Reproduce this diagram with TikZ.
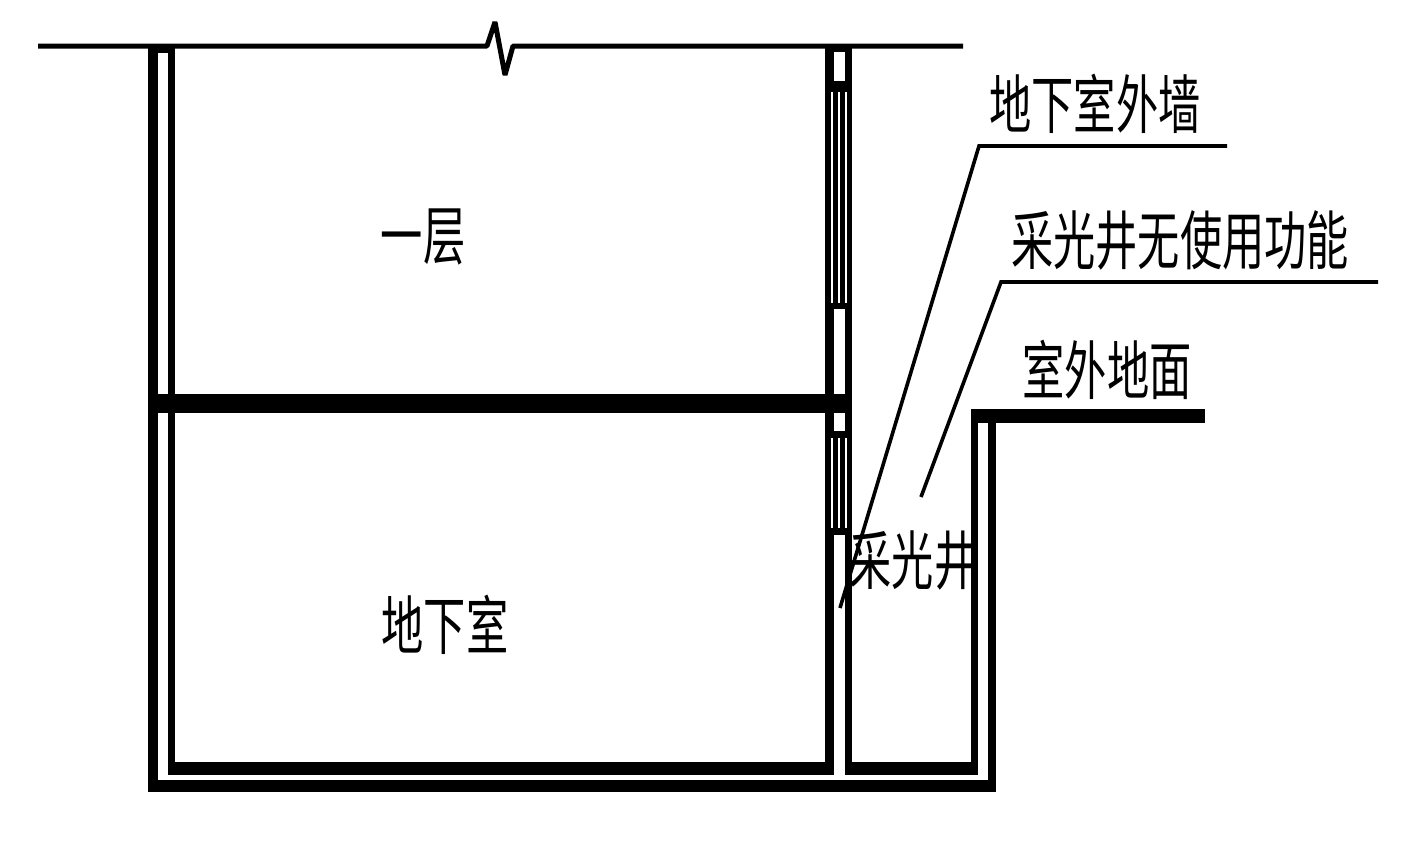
\documentclass[tikz,border=0pt]{standalone}
\usepackage{fontspec}
\newfontfamily\cjk{Noto Sans CJK SC}
\usetikzlibrary{positioning}
\tikzset{
  wall/.style={black,line width=#1*0.5pt},
  leader/.style={black,line width=1.8pt},
  label/.style={font=\cjk\fontsize{32}{34}\selectfont,xscale=.66,inner sep=0pt}
}
\begin{document}
\begin{tikzpicture}[x=0.5pt,y=-0.5pt]
\useasboundingbox (0,0) rectangle (1405,843);
% ground line with break mark
\draw[wall=5,line join=bevel] (38,46) -- (487,46) -- (495,22) -- (505,75) -- (513,46) -- (963,46);
% outer walls
\draw[wall=10] (153,46) -- (153,792);
\draw[wall=7] (171.5,46) -- (171.5,775);
\draw[wall=7] (148,49.5) -- (175,49.5);
\draw[wall=12] (148,786) -- (996,786);
\draw[wall=8] (992,412) -- (992,792);
\draw[wall=7] (974.5,412) -- (974.5,775);
\draw[wall=14] (971,416) -- (1205,416);
% basement floor
\draw[wall=13] (168,768.5) -- (834,768.5);
\draw[wall=13] (845,768.5) -- (978,768.5);
% slab
\draw[wall=19] (148,403.5) -- (852,403.5);
% window wall
\draw[wall=9] (829.5,46) -- (829.5,775);
\draw[wall=7] (848.5,46) -- (848.5,775);
\draw[wall=6] (825,49) -- (852,49);
\fill[black] (825,81) rectangle (852,309);
\fill[black] (825,431) rectangle (852,535);
\foreach \x in {831.5,838.5,845.5}{
  \draw[white,line width=1pt] (\x,92) -- (\x,303);
  \draw[white,line width=1pt] (\x,438) -- (\x,528);
}
% labels
\node[label] (first) at (423,237) {一层};
\node[label] (base) at (445,625) {地下室};
\node[label] (wallname) at (1095,104) {地下室外墙};
\node[label] (nouse) at (1180,240) {采光井无使用功能};
\node[label] (ground) at (1107,370) {室外地面};
\node[label] (well) at (913,560) {采光井};
% leaders
\coordinate (wallend) at (1227,146);
\coordinate (wallbend) at (979,146);
\coordinate (walltip) at (840,608);
\coordinate (nouseend) at (1378,282);
\coordinate (nousebend) at (1001,282);
\coordinate (nousetip) at (921,497);
\draw[leader] (wallend) -- (wallbend) -- (walltip);
\draw[leader] (nouseend) -- (nousebend) -- (nousetip);
\end{tikzpicture}
\end{document}
